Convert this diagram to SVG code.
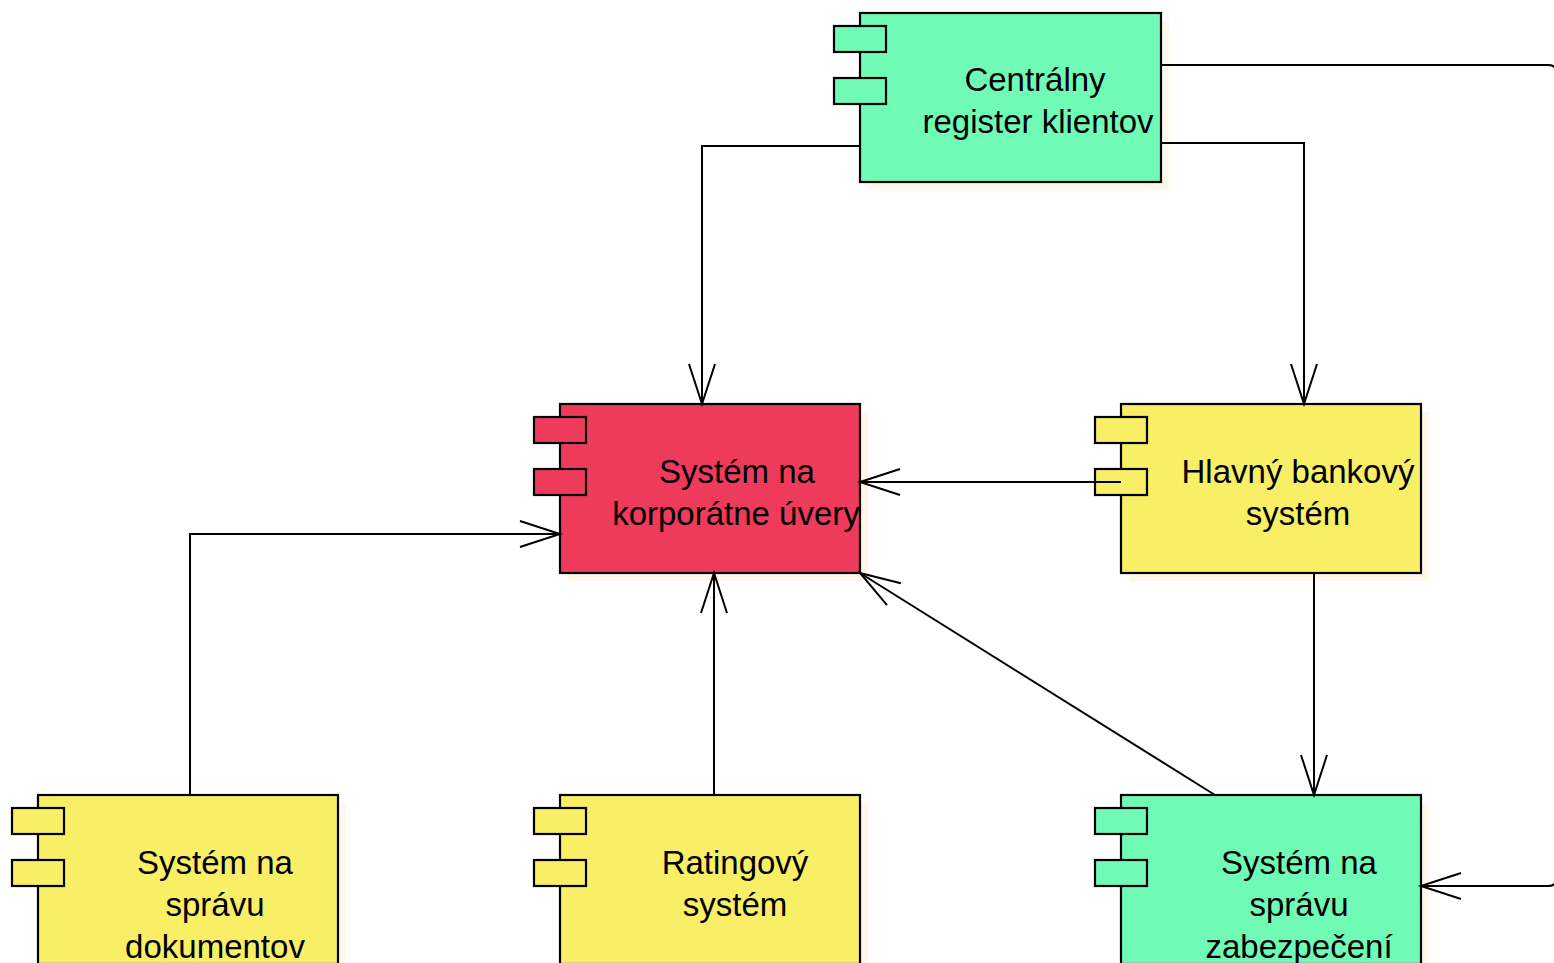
<svg xmlns="http://www.w3.org/2000/svg" width="1554" height="963" viewBox="0 0 1554 963">
<style>
.sh{fill:#fff7ea;stroke:none}
.b{stroke:#000;stroke-width:2.2}
.g{fill:#6ffbb5}
.r{fill:#ef3b5b}
.y{fill:#f8ef66}
text{font-family:"Liberation Sans",Arial,sans-serif;font-size:33px;fill:#000;text-anchor:middle}
.c{fill:none;stroke:#000;stroke-width:2}
</style>
<defs>
<marker id="a" viewBox="-42 -15 44 30" refX="0" refY="0" markerWidth="44" markerHeight="30" markerUnits="userSpaceOnUse" orient="auto" overflow="visible">
<path d="M-40,-13 L0,0 L-40,13" fill="none" stroke="#000" stroke-width="2"/>
</marker>
</defs>
<rect width="1554" height="963" fill="#fff"/>

<g id="n-centralny">
<rect class="sh" x="868" y="21" width="301" height="169"/>
<rect class="b g" x="860" y="13" width="301" height="169"/>
<rect class="b g" x="834" y="26" width="52" height="26"/>
<rect class="b g" x="834" y="78" width="52" height="26"/>
<text x="1035" y="91">Centrálny</text>
<text x="1038" y="133">register klientov</text>
</g>

<g id="n-korporatne">
<rect class="sh" x="568" y="412" width="300" height="169"/>
<rect class="b r" x="560" y="404" width="300" height="169"/>
<rect class="b r" x="534" y="417" width="52" height="26"/>
<rect class="b r" x="534" y="469" width="52" height="26"/>
<text x="737" y="483">Systém na</text>
<text x="736" y="525">korporátne úvery</text>
</g>

<g id="n-hlavny">
<rect class="sh" x="1129" y="412" width="300" height="169"/>
<rect class="b y" x="1121" y="404" width="300" height="169"/>
<rect class="b y" x="1095" y="417" width="52" height="26"/>
<rect class="b y" x="1095" y="469" width="52" height="26"/>
<text x="1298" y="483">Hlavný bankový</text>
<text x="1298" y="525">systém</text>
</g>

<g id="n-dokumenty">
<rect class="sh" x="46" y="803" width="300" height="169"/>
<rect class="b y" x="38" y="795" width="300" height="169"/>
<rect class="b y" x="12" y="808" width="52" height="26"/>
<rect class="b y" x="12" y="860" width="52" height="26"/>
<text x="215" y="874">Systém na</text>
<text x="215" y="916">správu</text>
<text x="215" y="958">dokumentov</text>
</g>

<g id="n-rating">
<rect class="sh" x="568" y="803" width="300" height="169"/>
<rect class="b y" x="560" y="795" width="300" height="169"/>
<rect class="b y" x="534" y="808" width="52" height="26"/>
<rect class="b y" x="534" y="860" width="52" height="26"/>
<text x="735" y="874">Ratingový</text>
<text x="735" y="916">systém</text>
</g>

<g id="n-zabezpeceni">
<rect class="sh" x="1129" y="803" width="300" height="169"/>
<rect class="b g" x="1121" y="795" width="300" height="169"/>
<rect class="b g" x="1095" y="808" width="52" height="26"/>
<rect class="b g" x="1095" y="860" width="52" height="26"/>
<text x="1299" y="874">Systém na</text>
<text x="1299" y="916">správu</text>
<text x="1299" y="958">zabezpečení</text>
</g>

<g id="connectors">
<path class="c" d="M860,146 H702 V404" marker-end="url(#a)"/>
<path class="c" d="M1161,143 H1304 V404" marker-end="url(#a)"/>
<path class="c" d="M1161,65 H1548 Q1557,65 1557,74 V877 Q1557,886 1548,886 H1421" marker-end="url(#a)"/>
<path class="c" d="M1121,482 H860" marker-end="url(#a)"/>
<path class="c" d="M190,795 V534 H560" marker-end="url(#a)"/>
<path class="c" d="M714,795 V573" marker-end="url(#a)"/>
<path class="c" d="M1314,573 V795" marker-end="url(#a)"/>
<path class="c" d="M1215,795 L860,573" marker-end="url(#a)"/>
</g>
</svg>
